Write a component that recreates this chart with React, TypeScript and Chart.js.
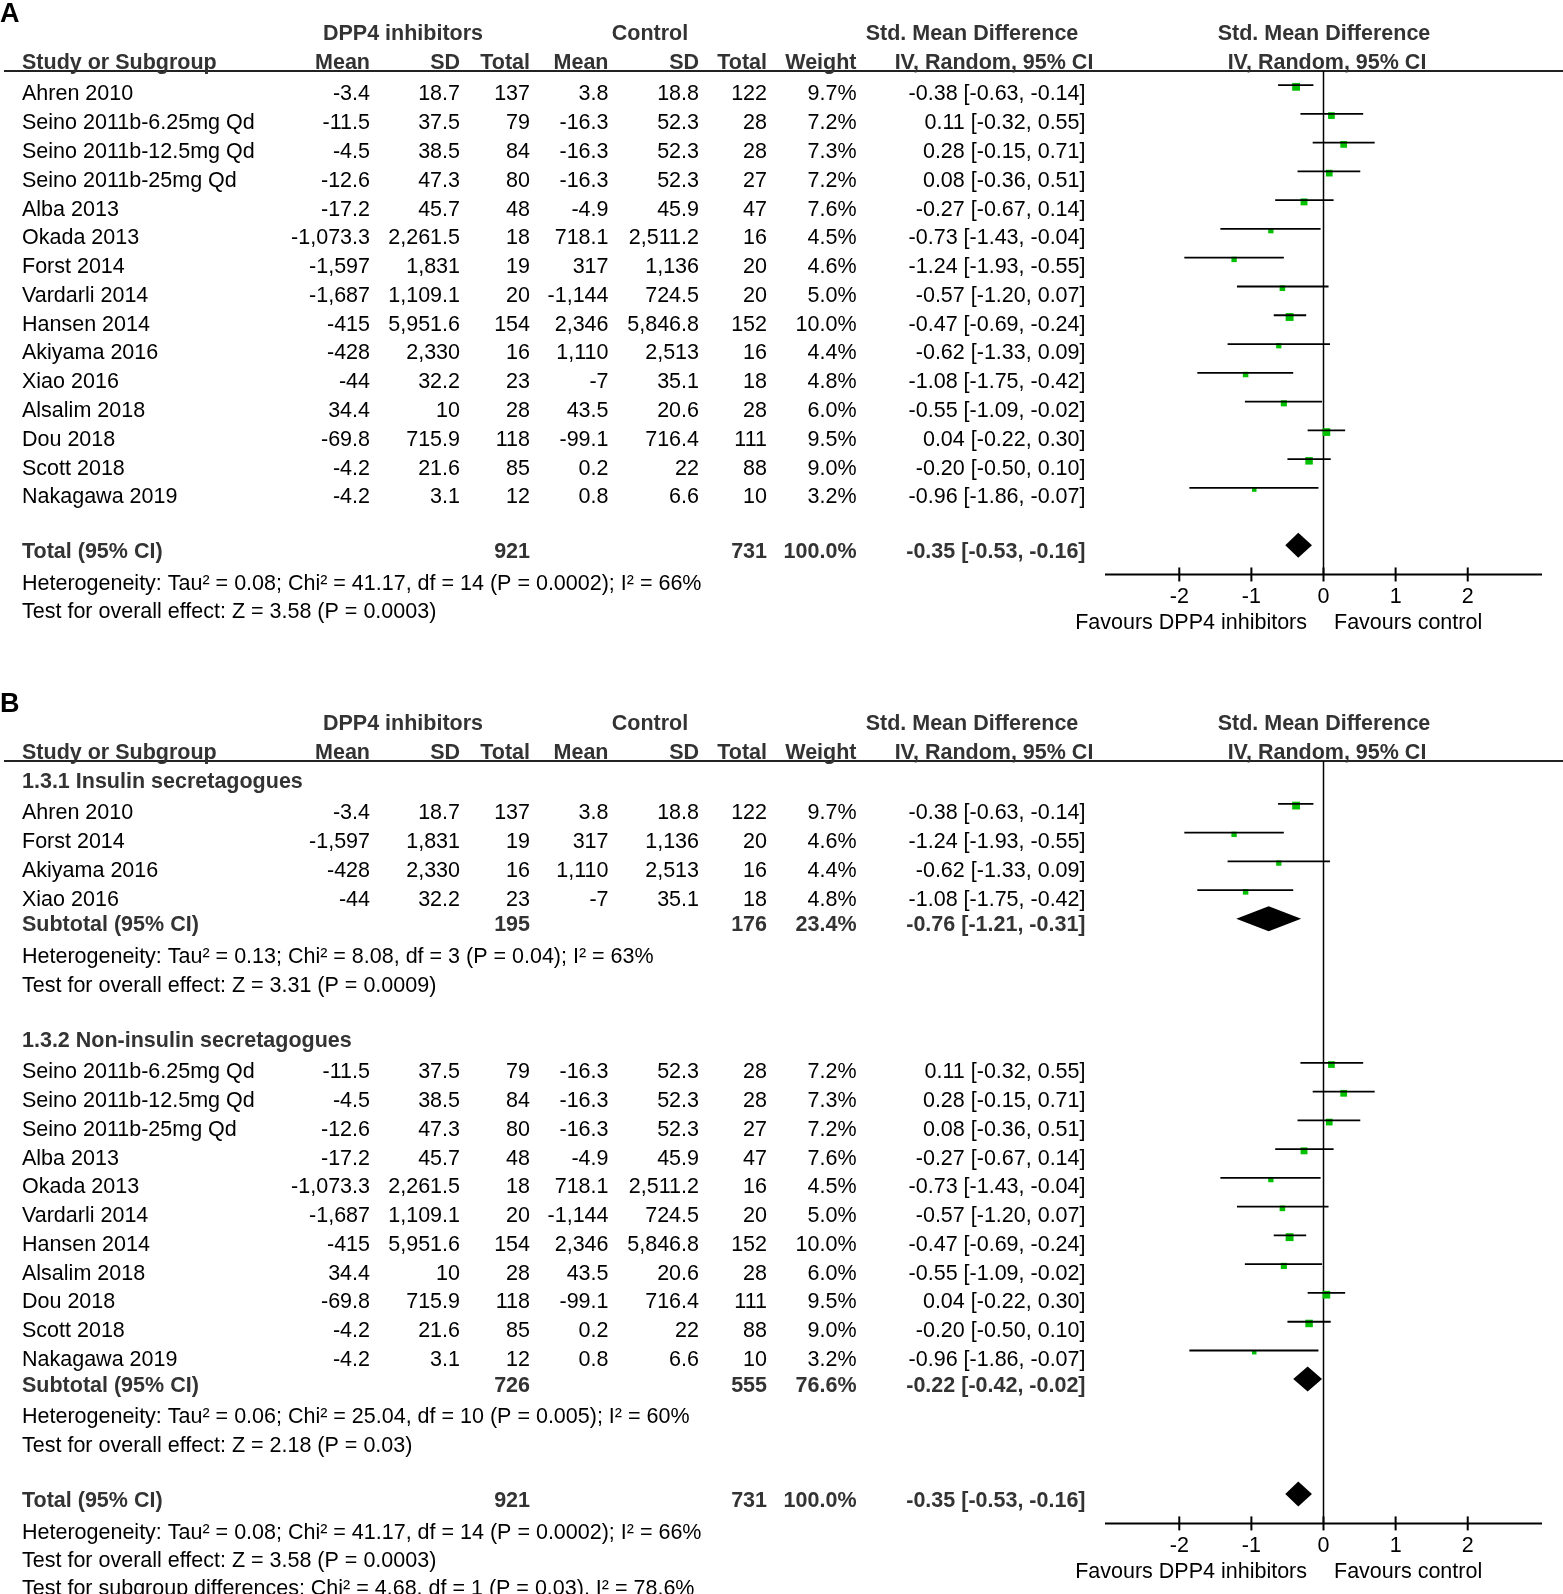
import React, { useEffect, useRef } from "react";
import { Chart, registerables } from "chart.js";

Chart.register(...registerables);

// ---------------- Data ----------------
const studyNames = [
  "Ahren 2010",
  "Seino 2011b-6.25mg Qd",
  "Seino 2011b-12.5mg Qd",
  "Seino 2011b-25mg Qd",
  "Alba 2013",
  "Okada 2013",
  "Forst 2014",
  "Vardarli 2014",
  "Hansen 2014",
  "Akiyama 2016",
  "Xiao 2016",
  "Alsalim 2018",
  "Dou 2018",
  "Scott 2018",
  "Nakagawa 2019",
];
const dppMean = ["-3.4", "-11.5", "-4.5", "-12.6", "-17.2", "-1,073.3", "-1,597", "-1,687", "-415", "-428", "-44", "34.4", "-69.8", "-4.2", "-4.2"];
const dppSD = ["18.7", "37.5", "38.5", "47.3", "45.7", "2,261.5", "1,831", "1,109.1", "5,951.6", "2,330", "32.2", "10", "715.9", "21.6", "3.1"];
const dppTotal = [137, 79, 84, 80, 48, 18, 19, 20, 154, 16, 23, 28, 118, 85, 12];
const ctrlMean = ["3.8", "-16.3", "-16.3", "-16.3", "-4.9", "718.1", "317", "-1,144", "2,346", "1,110", "-7", "43.5", "-99.1", "0.2", "0.8"];
const ctrlSD = ["18.8", "52.3", "52.3", "52.3", "45.9", "2,511.2", "1,136", "724.5", "5,846.8", "2,513", "35.1", "20.6", "716.4", "22", "6.6"];
const ctrlTotal = [122, 28, 28, 27, 47, 16, 20, 20, 152, 16, 18, 28, 111, 88, 10];
const weights = [9.7, 7.2, 7.3, 7.2, 7.6, 4.5, 4.6, 5.0, 10.0, 4.4, 4.8, 6.0, 9.5, 9.0, 3.2];
const smd = [-0.38, 0.11, 0.28, 0.08, -0.27, -0.73, -1.24, -0.57, -0.47, -0.62, -1.08, -0.55, 0.04, -0.2, -0.96];
const ciLow = [-0.63, -0.32, -0.15, -0.36, -0.67, -1.43, -1.93, -1.2, -0.69, -1.33, -1.75, -1.09, -0.22, -0.5, -1.86];
const ciHigh = [-0.14, 0.55, 0.71, 0.51, 0.14, -0.04, -0.55, 0.07, -0.24, 0.09, -0.42, -0.02, 0.3, 0.1, -0.07];

const insulinGroup = ["Ahren 2010", "Forst 2014", "Akiyama 2016", "Xiao 2016"];
const sectionLabels = ["1.3.1 Insulin secretagogues", "1.3.2 Non-insulin secretagogues"];

// summaries: 0 = overall, 1 = insulin secretagogues, 2 = non-insulin secretagogues
const summaryLabels = ["Total (95% CI)", "Subtotal (95% CI)", "Subtotal (95% CI)"];
const summaryDppTotal = [921, 195, 726];
const summaryCtrlTotal = [731, 176, 555];
const summaryWeight = [100.0, 23.4, 76.6];
const summaryEst = [-0.35, -0.76, -0.22];
const summaryLow = [-0.53, -1.21, -0.42];
const summaryHigh = [-0.16, -0.31, -0.02];
const heterogeneityText = [
  "Heterogeneity: Tau² = 0.08; Chi² = 41.17, df = 14 (P = 0.0002); I² = 66%",
  "Heterogeneity: Tau² = 0.13; Chi² = 8.08, df = 3 (P = 0.04); I² = 63%",
  "Heterogeneity: Tau² = 0.06; Chi² = 25.04, df = 10 (P = 0.005); I² = 60%",
];
const overallEffectText = [
  "Test for overall effect: Z = 3.58 (P = 0.0003)",
  "Test for overall effect: Z = 3.31 (P = 0.0009)",
  "Test for overall effect: Z = 2.18 (P = 0.03)",
];
const subgroupDiffText = "Test for subgroup differences: Chi² = 4.68, df = 1 (P = 0.03), I² = 78.6%";

const xTicks = [-2, -1, 0, 1, 2];
const xMin = -3.03;
const xMax = 3.03;
const favoursLeft = "Favours DPP4 inhibitors";
const favoursRight = "Favours control";

// ---------------- Layout / style ----------------
const FONT = '"Liberation Sans", Arial, Helvetica, sans-serif';
const FS = 21.5;
const TEXT_DY = 2;
const ROW_PX = 28.77;
const HEADER_LINE_Y = 71;
const GREEN = "#00c000";
const HEAD = "#333333";
const COL = {
  name: 22,
  dppMean: 370,
  dppSD: 460,
  dppTotal: 530,
  ctrlMean: 608.5,
  ctrlSD: 699,
  ctrlTotal: 767,
  weight: 856.5,
  ci: 1085.5,
  dppHead: 403,
  ctrlHead: 650,
  smdHead: 972,
  ivHead: 994,
};
const LINE_OFF = 0.26;
const SQ_OFF = 0.2;
const DIA_OFF = 0.17;

type Line =
  | { kind: "study"; row: number; idx: number }
  | { kind: "section"; row: number; text: string }
  | { kind: "summary"; row: number; s: number }
  | { kind: "note"; row: number; text: string };

type Panel = { label: string; height: number; minRow: number; axisRow: number; lines: Line[] };

function buildPanelA(): Panel {
  const lines: Line[] = [];
  let cur = 0;
  const at = (g: number) => (cur += g);
  studyNames.forEach((_, i) => lines.push({ kind: "study", row: i === 0 ? at(0) : at(1), idx: i }));
  const totalRow = at(1.9);
  lines.push({ kind: "summary", row: totalRow, s: 0 });
  lines.push({ kind: "note", row: at(1.1), text: heterogeneityText[0] });
  lines.push({ kind: "note", row: at(1), text: overallEffectText[0] });
  return { label: "A", height: 690, minRow: -0.75, axisRow: totalRow + 0.85, lines };
}

function buildPanelB(): Panel {
  const lines: Line[] = [];
  let cur = 0;
  const at = (g: number) => (cur += g);
  const g1 = studyNames.map((n, i) => i).filter((i) => insulinGroup.includes(studyNames[i]));
  const g2 = studyNames.map((n, i) => i).filter((i) => !insulinGroup.includes(studyNames[i]));
  lines.push({ kind: "section", row: at(0), text: sectionLabels[0] });
  g1.forEach((idx, k) => lines.push({ kind: "study", row: at(k === 0 ? 1.07 : 1), idx }));
  lines.push({ kind: "summary", row: at(0.9), s: 1 });
  lines.push({ kind: "note", row: at(1.1), text: heterogeneityText[1] });
  lines.push({ kind: "note", row: at(1), text: overallEffectText[1] });
  lines.push({ kind: "section", row: at(1.9), text: sectionLabels[1] });
  g2.forEach((idx, k) => lines.push({ kind: "study", row: at(k === 0 ? 1.1 : 1), idx }));
  lines.push({ kind: "summary", row: at(0.9), s: 2 });
  lines.push({ kind: "note", row: at(1.1), text: heterogeneityText[2] });
  lines.push({ kind: "note", row: at(1), text: overallEffectText[2] });
  const totalRow = at(1.9);
  lines.push({ kind: "summary", row: totalRow, s: 0 });
  lines.push({ kind: "note", row: at(1.1), text: heterogeneityText[0] });
  lines.push({ kind: "note", row: at(1), text: overallEffectText[0] });
  lines.push({ kind: "note", row: at(0.97), text: subgroupDiffText });
  return { label: "B", height: 904, minRow: -0.68, axisRow: totalRow + 0.85, lines };
}

const f2 = (v: number) => v.toFixed(2);
const ciText = (e: number, l: number, h: number) => `${f2(e)} [${f2(l)}, ${f2(h)}]`;

function txt(ctx: CanvasRenderingContext2D, s: string, x: number, y: number, align: CanvasTextAlign, bold = false, color = "#000", size = FS) {
  ctx.font = `${bold ? "bold " : ""}${size}px ${FONT}`;
  ctx.fillStyle = color;
  ctx.textAlign = align;
  ctx.textBaseline = "middle";
  ctx.fillText(s, x, y + TEXT_DY);
}

function ForestPanel({ panel, top }: { panel: Panel; top: number }) {
  const ref = useRef<HTMLCanvasElement | null>(null);
  useEffect(() => {
    const canvas = ref.current;
    if (!canvas) return;
    const W = 1563;
    const H = panel.height;
    const bottomPx = HEADER_LINE_Y + (panel.axisRow - panel.minRow) * ROW_PX;
    const studyLines = panel.lines.filter((l) => l.kind === "study") as { kind: "study"; row: number; idx: number }[];
    const summaryLines = panel.lines.filter((l) => l.kind === "summary") as { kind: "summary"; row: number; s: number }[];

    const whiskerSets = studyLines.map((l) => ({
      type: "scatter" as const,
      data: [
        { x: ciLow[l.idx], y: l.row - LINE_OFF },
        { x: ciHigh[l.idx], y: l.row - LINE_OFF },
      ],
      showLine: true,
      borderColor: "#000",
      borderWidth: 1.8,
      pointRadius: 0,
      pointHoverRadius: 0,
      clip: false as any,
    }));
    const squareSet = {
      type: "scatter" as const,
      data: studyLines.map((l) => ({ x: smd[l.idx], y: l.row - SQ_OFF })),
      pointStyle: "rect" as const,
      pointRadius: studyLines.map((l) => (2.5 * Math.sqrt(weights[l.idx])) / Math.SQRT2),
      backgroundColor: GREEN,
      borderWidth: 0,
      showLine: false,
      clip: false as any,
    };

    const plugin = {
      id: "forestDecor" + panel.label,
      beforeDatasetsDraw(chart: any) {
        const ctx: CanvasRenderingContext2D = chart.ctx;
        const xs = chart.scales.x;
        const ys = chart.scales.y;
        const area = chart.chartArea;
        ctx.save();
        // header rule
        ctx.strokeStyle = "#222";
        ctx.lineWidth = 1.8;
        ctx.beginPath();
        ctx.moveTo(4, area.top);
        ctx.lineTo(W, area.top);
        ctx.stroke();
        // zero line
        const x0 = xs.getPixelForValue(0);
        const ay = ys.getPixelForValue(panel.axisRow);
        ctx.strokeStyle = "#000";
        ctx.lineWidth = 1.5;
        ctx.beginPath();
        ctx.moveTo(x0, area.top);
        ctx.lineTo(x0, ay);
        ctx.stroke();
        // axis
        ctx.lineWidth = 2;
        ctx.beginPath();
        ctx.moveTo(xs.getPixelForValue(xMin), ay);
        ctx.lineTo(xs.getPixelForValue(xMax), ay);
        ctx.stroke();
        xTicks.forEach((t) => {
          const px = xs.getPixelForValue(t);
          ctx.beginPath();
          ctx.moveTo(px, ay - 7);
          ctx.lineTo(px, ay + 7);
          ctx.stroke();
          txt(ctx, String(t), px, ay + 20.5, "center");
        });
        txt(ctx, favoursLeft, x0 - 16.5, ay + 47, "right");
        txt(ctx, favoursRight, x0 + 10.5, ay + 47, "left");
        ctx.restore();
      },
      afterDatasetsDraw(chart: any) {
        const ctx: CanvasRenderingContext2D = chart.ctx;
        const xs = chart.scales.x;
        const ys = chart.scales.y;
        ctx.save();
        ctx.fillStyle = "#000";
        summaryLines.forEach((l) => {
          const y = ys.getPixelForValue(l.row - DIA_OFF);
          const xl = xs.getPixelForValue(summaryLow[l.s]);
          const xh = xs.getPixelForValue(summaryHigh[l.s]);
          const xm = xs.getPixelForValue(summaryEst[l.s]);
          ctx.beginPath();
          ctx.moveTo(xl, y);
          ctx.lineTo(xm, y - 12.5);
          ctx.lineTo(xh, y);
          ctx.lineTo(xm, y + 12.5);
          ctx.closePath();
          ctx.fill();
        });
        ctx.restore();
      },
      afterDraw(chart: any) {
        const ctx: CanvasRenderingContext2D = chart.ctx;
        const xs = chart.scales.x;
        const ys = chart.scales.y;
        const area = chart.chartArea;
        const x0 = xs.getPixelForValue(0);
        ctx.save();
        // panel label
        txt(ctx, panel.label, 0, area.top - 58.5, "left", true, "#000", 27);
        // headers
        const h1 = area.top - 38.5;
        const h2 = area.top - 10;
        txt(ctx, "DPP4 inhibitors", COL.dppHead, h1, "center", true, HEAD);
        txt(ctx, "Control", COL.ctrlHead, h1, "center", true, HEAD);
        txt(ctx, "Std. Mean Difference", COL.smdHead, h1, "center", true, HEAD);
        txt(ctx, "Std. Mean Difference", x0 + 0.5, h1, "center", true, HEAD);
        txt(ctx, "Study or Subgroup", COL.name, h2, "left", true, HEAD);
        txt(ctx, "Mean", COL.dppMean, h2, "right", true, HEAD);
        txt(ctx, "SD", COL.dppSD, h2, "right", true, HEAD);
        txt(ctx, "Total", COL.dppTotal, h2, "right", true, HEAD);
        txt(ctx, "Mean", COL.ctrlMean, h2, "right", true, HEAD);
        txt(ctx, "SD", COL.ctrlSD, h2, "right", true, HEAD);
        txt(ctx, "Total", COL.ctrlTotal, h2, "right", true, HEAD);
        txt(ctx, "Weight", COL.weight, h2, "right", true, HEAD);
        txt(ctx, "IV, Random, 95% CI", COL.ivHead, h2, "center", true, HEAD);
        txt(ctx, "IV, Random, 95% CI", x0 + 3.5, h2, "center", true, HEAD);
        panel.lines.forEach((l) => {
          const y = ys.getPixelForValue(l.row);
          if (l.kind === "study") {
            const i = l.idx;
            txt(ctx, studyNames[i], COL.name, y, "left");
            txt(ctx, dppMean[i], COL.dppMean, y, "right");
            txt(ctx, dppSD[i], COL.dppSD, y, "right");
            txt(ctx, String(dppTotal[i]), COL.dppTotal, y, "right");
            txt(ctx, ctrlMean[i], COL.ctrlMean, y, "right");
            txt(ctx, ctrlSD[i], COL.ctrlSD, y, "right");
            txt(ctx, String(ctrlTotal[i]), COL.ctrlTotal, y, "right");
            txt(ctx, weights[i].toFixed(1) + "%", COL.weight, y, "right");
            txt(ctx, ciText(smd[i], ciLow[i], ciHigh[i]), COL.ci, y, "right");
          } else if (l.kind === "section") {
            txt(ctx, l.text, COL.name, y, "left", true, HEAD);
          } else if (l.kind === "summary") {
            const s = l.s;
            txt(ctx, summaryLabels[s], COL.name, y, "left", true, HEAD);
            txt(ctx, String(summaryDppTotal[s]), COL.dppTotal, y, "right", true, HEAD);
            txt(ctx, String(summaryCtrlTotal[s]), COL.ctrlTotal, y, "right", true, HEAD);
            txt(ctx, summaryWeight[s].toFixed(1) + "%", COL.weight, y, "right", true, HEAD);
            txt(ctx, ciText(summaryEst[s], summaryLow[s], summaryHigh[s]), COL.ci, y, "right", true, HEAD);
          } else {
            txt(ctx, l.text, COL.name, y, "left");
          }
        });
        ctx.restore();
      },
    };

    const chart = new Chart(canvas, {
      type: "scatter",
      data: { datasets: [...whiskerSets, squareSet] as any },
      options: {
        animation: false,
        responsive: false,
        maintainAspectRatio: false,
        events: [],
        layout: {
          padding: { top: HEADER_LINE_Y, bottom: H - bottomPx, left: 1105, right: 21 },
        },
        plugins: { legend: { display: false }, tooltip: { enabled: false }, title: { display: false } },
        scales: {
          x: { type: "linear", min: xMin, max: xMax, display: false },
          y: { type: "linear", min: panel.minRow, max: panel.axisRow, reverse: true, display: false },
        },
      },
      plugins: [plugin as any],
    });
    return () => chart.destroy();
  }, [panel]);
  return (
    <canvas
      ref={ref}
      width={1563}
      height={panel.height}
      style={{ position: "absolute", left: 0, top, width: 1563, height: panel.height, display: "block" }}
    />
  );
}

const PANEL_A = buildPanelA();
const PANEL_B = buildPanelB();

export default function App() {
  return (
    <div style={{ position: "absolute", left: 0, top: 0, width: 1563, height: 1594, background: "#fff", overflow: "hidden" }}>
      <ForestPanel panel={PANEL_A} top={0} />
      <ForestPanel panel={PANEL_B} top={690} />
    </div>
  );
}
